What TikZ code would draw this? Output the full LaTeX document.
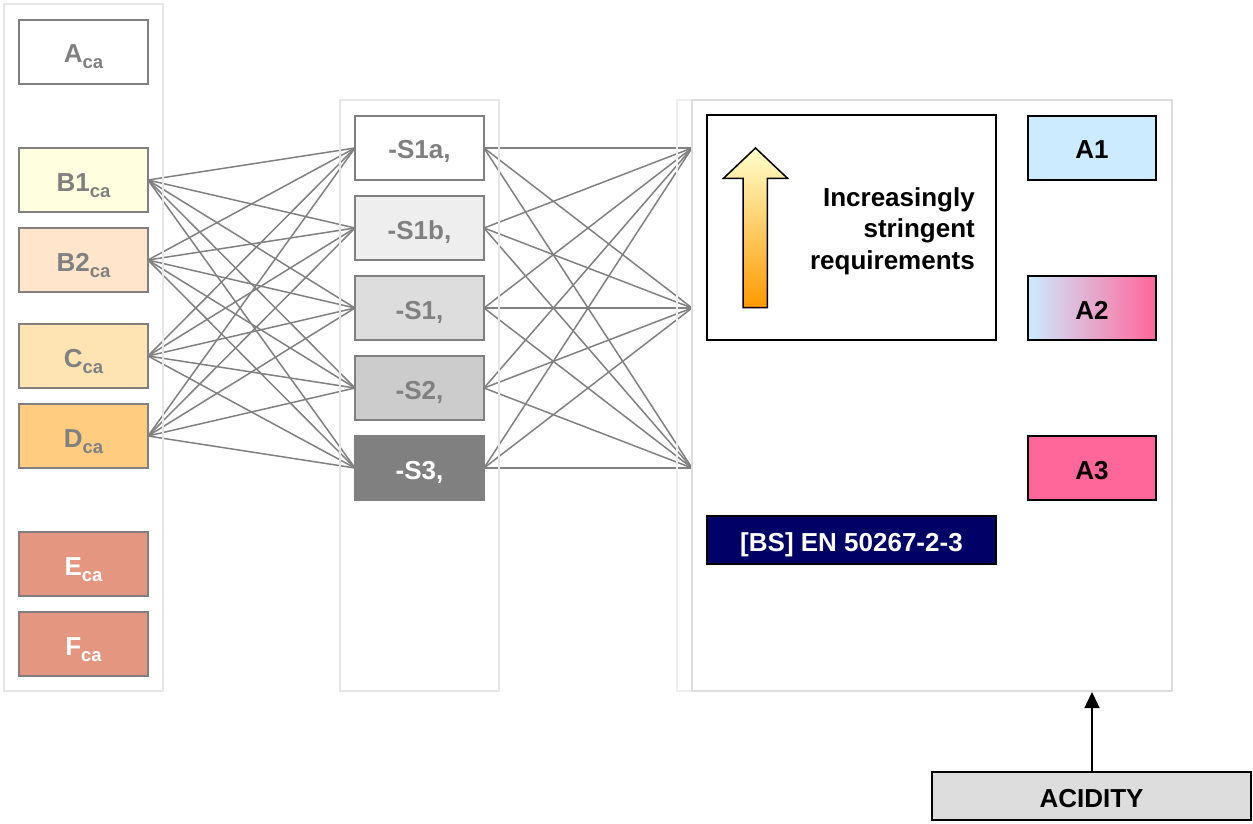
\documentclass[tikz,border=0pt]{standalone}
\usepackage{fontspec}
\setmainfont{Liberation Sans}
\usetikzlibrary{arrows.meta}
\definecolor{boxgray}{HTML}{808080}
\definecolor{panelL}{HTML}{E6E6E6}
\definecolor{panelR}{HTML}{DDDDDD}
\definecolor{panelRo}{HTML}{EEEEEE}
\definecolor{fB1}{HTML}{FFFFE0}
\definecolor{fB2}{HTML}{FFE5CC}
\definecolor{fC}{HTML}{FFE4B3}
\definecolor{fD}{HTML}{FFCC80}
\definecolor{fE}{HTML}{E49680}
\definecolor{fS1b}{HTML}{EEEEEE}
\definecolor{fS1}{HTML}{DDDDDD}
\definecolor{fS2}{HTML}{CCCCCC}
\definecolor{fS3}{HTML}{808080}
\definecolor{lblue}{HTML}{CCEBFF}
\definecolor{lpink}{HTML}{FF6699}
\definecolor{navy}{HTML}{000066}
\definecolor{acid}{HTML}{DDDDDD}
\definecolor{arrtop}{HTML}{FFFFCC}
\definecolor{arrbot}{HTML}{FF9900}
\newcommand{\subca}{\raisebox{-6pt}[0pt][0pt]{\fontsize{18.5}{18.5}\selectfont ca}}
\begin{document}
\begin{tikzpicture}[x=1pt,y=-1pt,
  base/.style={inner sep=0pt, outer sep=0pt, text height=22pt, text depth=0pt,
    font=\fontsize{26}{31}\selectfont\bfseries},
  gbox/.style={base, draw=boxgray, line width=2pt, minimum width=129pt, minimum height=64pt, text=boxgray},
  wbox/.style={gbox, text=white},
  kbox/.style={base, draw=black, line width=2pt, minimum width=128pt, minimum height=64pt, text=black},
  link/.style={draw=boxgray, line width=1.5pt},
  panel/.style={draw=panelL, line width=2pt},
]
\useasboundingbox (0,0) rectangle (1253,824);

% left column
\node[gbox, fill=white] (a)  at (83.5,52)  {A\subca};
\node[gbox, fill=fB1]   (b1) at (83.5,180) {B1\subca};
\node[gbox, fill=fB2]   (b2) at (83.5,260) {B2\subca};
\node[gbox, fill=fC]    (c)  at (83.5,356) {C\subca};
\node[gbox, fill=fD]    (d)  at (83.5,436) {D\subca};
\node[wbox, fill=fE]    (e)  at (83.5,564) {E\subca};
\node[wbox, fill=fE]    (f)  at (83.5,644) {F\subca};

% middle column
\node[gbox, fill=white] (sa) at (419.5,148) {-S1a,};
\node[gbox, fill=fS1b]  (sb) at (419.5,228) {-S1b,};
\node[gbox, fill=fS1]   (s1) at (419.5,308) {-S1,};
\node[gbox, fill=fS2]   (s2) at (419.5,388) {-S2,};
\node[wbox, fill=fS3]   (s3) at (419.5,468) {-S3,};

% targets on right panel edge
\coordinate (t1) at (692,148);
\coordinate (t2) at (692,308);
\coordinate (t3) at (692,468);

% connectors
\foreach \s in {sa,sb,s1,s2,s3}{
  \foreach \l in {b1,b2,c,d}{\draw[link] (\l.east) -- (\s.west);}
  \foreach \t in {t1,t2,t3}{\draw[link] (\s.east) -- (\t);}
}

% panels
\draw[panel] (4,4) rectangle (163,691);
\draw[panel] (340,100) rectangle (499,691);
\draw[draw=panelRo, line width=2pt] (677,100) rectangle (1172,691);
\draw[draw=panelR, line width=2pt] (692,100) rectangle (1172,691);

% requirements box
\node[base, draw=black, line width=2pt, minimum width=289pt, minimum height=224pt, fill=white] (req) at (851.5,227.5) {};
\shadedraw[top color=arrtop, bottom color=arrbot, draw=black, line width=1.5pt, line join=miter]
  (743,307.7) -- (743,178.3) -- (723.5,178.3) -- (755.5,148) -- (787.5,178.3) -- (767.3,178.3) -- (767.3,307.7) -- cycle;
\node[inner sep=0pt, align=right, anchor=east, font=\fontsize{26}{31.5}\selectfont\bfseries] (reqtxt) at (975,231)
  {Increasingly\\stringent\\requirements};

% acidity classes
\node[kbox, fill=lblue] (a1) at (1092,148) {A1};
\node[kbox, left color=lblue, right color=lpink] (a2) at (1092,308) {A2};
\node[kbox, fill=lpink] (a3) at (1092,468) {A3};

% standard
\node[base, draw=black, line width=2pt, fill=navy, text=white, minimum width=289pt, minimum height=48pt] (bs) at (851.5,540) {[BS] EN 50267-2-3};

% acidity
\node[base, draw=black, line width=2pt, fill=acid, text=black, minimum width=319pt, minimum height=48pt] (acid) at (1091.5,796) {ACIDITY};
\coordinate (pbot) at (1092,692);
\draw[line width=1.5pt, -{Triangle[width=15pt,length=16pt]}] (acid.north -| pbot) -- (pbot);
\end{tikzpicture}
\end{document}
